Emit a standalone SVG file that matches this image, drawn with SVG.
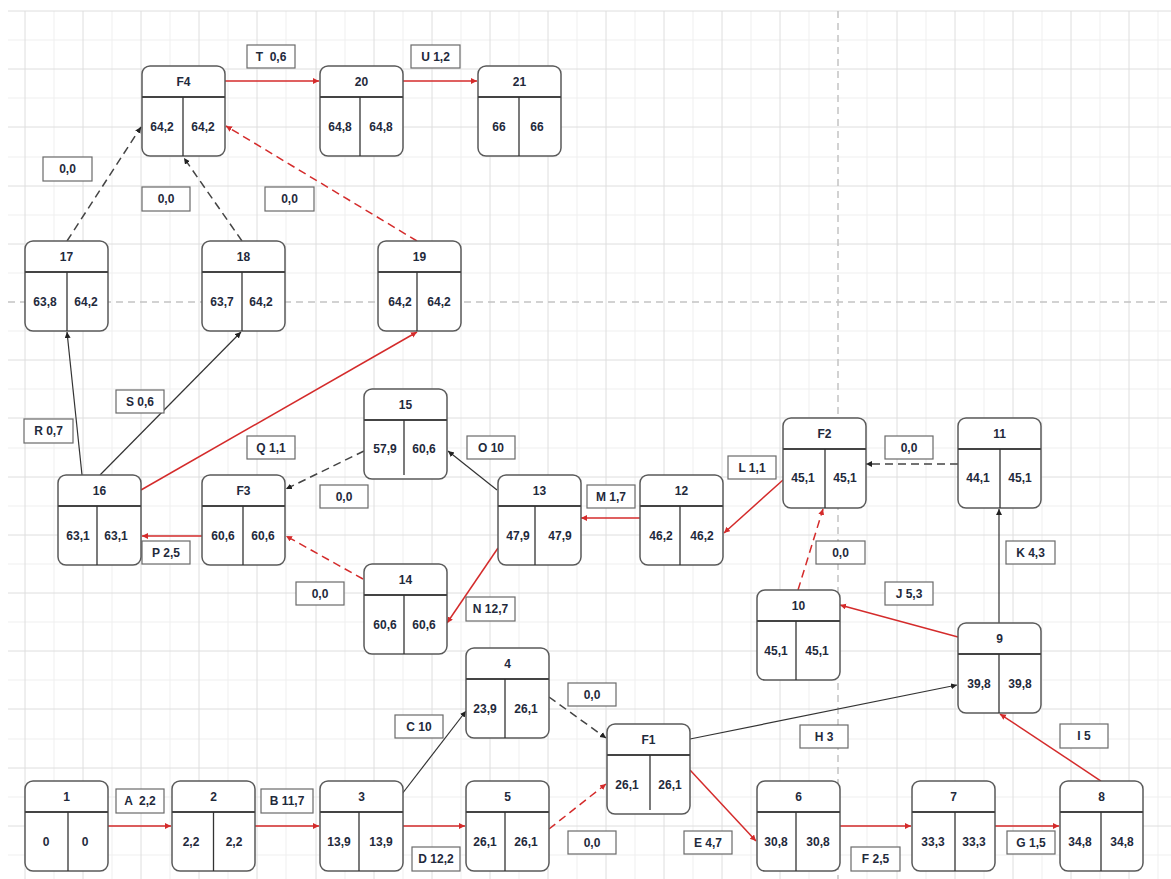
<svg xmlns="http://www.w3.org/2000/svg" width="1171" height="879" viewBox="0 0 1171 879">
<style>
.bg{fill:#ffffff}
.gmin{stroke:#efefef;stroke-width:1;fill:none}
.gmaj{stroke:#dedede;stroke-width:1;fill:none}
.gdash{stroke:#c4c4c4;stroke-width:1.5;stroke-dasharray:7 5;fill:none}
.box{fill:#ffffff;stroke:#5a5a5a;stroke-width:1.5}
.hdr{stroke:#444;stroke-width:2}
.div{stroke:#333;stroke-width:1.3}
.t{font-family:"Liberation Sans",Arial,sans-serif;font-size:12px;font-weight:bold;fill:#1f2a3c;text-anchor:middle}
.lbl rect{fill:#ffffff;stroke:#6a6a6a;stroke-width:1.2}
.red{stroke:#d42b2b;stroke-width:1.5;fill:none;marker-end:url(#ar)}
.redd{stroke:#d42b2b;stroke-width:1.5;fill:none;stroke-dasharray:8 5;marker-end:url(#ar)}
.blk{stroke:#333;stroke-width:1.2;fill:none;marker-end:url(#ab)}
.blkd{stroke:#444;stroke-width:1.5;fill:none;stroke-dasharray:8 5;marker-end:url(#ab)}
</style>
<defs>
<marker id="ar" markerWidth="7" markerHeight="7" refX="6" refY="3" orient="auto" markerUnits="userSpaceOnUse"><path d="M0,0 L6,3 L0,6 z" fill="#d42b2b"/></marker>
<marker id="ab" markerWidth="7" markerHeight="7" refX="6" refY="3" orient="auto" markerUnits="userSpaceOnUse"><path d="M0,0 L6,3 L0,6 z" fill="#222"/></marker>
</defs>
<rect class="bg" x="0" y="0" width="1171" height="879"/>
<g id="grid">
<path class="gmin" d="M54,11V879M112,11V879M170,11V879M228,11V879M286,11V879M345,11V879M403,11V879M461,11V879M519,11V879M577,11V879M635,11V879M693,11V879M751,11V879M809,11V879M867,11V879M926,11V879M984,11V879M1042,11V879M1100,11V879M1158,11V879
M8,40H1171M8,98H1171M8,157H1171M8,215H1171M8,273H1171M8,331H1171M8,389H1171M8,448H1171M8,506H1171M8,564H1171M8,622H1171M8,680H1171M8,739H1171M8,797H1171M8,855H1171"/>
<path class="gmaj" d="M25,11V879M83,11V879M141,11V879M199,11V879M257,11V879M316,11V879M374,11V879M432,11V879M490,11V879M548,11V879M606,11V879M664,11V879M722,11V879M780,11V879M897,11V879M955,11V879M1013,11V879M1071,11V879M1129,11V879
M8,11H1171M8,69H1171M8,127H1171M8,186H1171M8,244H1171M8,360H1171M8,418H1171M8,477H1171M8,535H1171M8,593H1171M8,651H1171M8,709H1171M8,768H1171M8,826H1171"/>
<path class="gdash" d="M838,11V879M8,302H1171"/>
</g>
<g id="connectors">
<path class="red" d="M108,826L171,826"/>
<path class="red" d="M255,826L319,826"/>
<path class="red" d="M403,826L465,826"/>
<path class="red" d="M690,770L756,841"/>
<path class="red" d="M840,826L911,826"/>
<path class="red" d="M995,826L1059,826"/>
<path class="red" d="M1101,781L1000,714"/>
<path class="red" d="M958,637L840,605"/>
<path class="red" d="M783,480L724,533"/>
<path class="red" d="M640,518L581,518"/>
<path class="red" d="M498,548L447,623"/>
<path class="red" d="M202,536L142,536"/>
<path class="red" d="M141,490L417,332"/>
<path class="red" d="M225,81L319,81"/>
<path class="red" d="M403,81L477,81"/>
<path class="redd" d="M549,829L606,784"/>
<path class="redd" d="M798,590L823,509"/>
<path class="redd" d="M363,579L286,536"/>
<path class="redd" d="M417,241L226,126"/>
<path class="blk" d="M402,794L466,711"/>
<path class="blk" d="M690,739L957,685"/>
<path class="blk" d="M999,623L999,509"/>
<path class="blk" d="M497,490L448,451"/>
<path class="blk" d="M82,475L67,332"/>
<path class="blk" d="M100,475L241,332"/>
<path class="blkd" d="M549,697L606,738"/>
<path class="blkd" d="M958,464L866,464"/>
<path class="blkd" d="M364,451L286,489"/>
<path class="blkd" d="M67,241L141,127"/>
<path class="blkd" d="M242,241L184,158"/>
</g>
<g id="labels">
<g class="lbl"><rect x="247" y="45" width="48" height="23"/><text class="t" x="271" y="61" style="white-space:pre">T  0,6</text></g>
<g class="lbl"><rect x="411" y="45" width="49" height="23"/><text class="t" x="435.5" y="61">U 1,2</text></g>
<g class="lbl"><rect x="43" y="157" width="49" height="24"/><text class="t" x="67.5" y="173">0,0</text></g>
<g class="lbl"><rect x="142" y="187" width="48" height="24"/><text class="t" x="166" y="203">0,0</text></g>
<g class="lbl"><rect x="265" y="187" width="49" height="24"/><text class="t" x="289.5" y="203">0,0</text></g>
<g class="lbl"><rect x="116" y="390" width="48" height="23"/><text class="t" x="140" y="406">S 0,6</text></g>
<g class="lbl"><rect x="24" y="419" width="49" height="24"/><text class="t" x="48.5" y="435">R 0,7</text></g>
<g class="lbl"><rect x="247" y="436" width="48" height="23"/><text class="t" x="271" y="452">Q 1,1</text></g>
<g class="lbl"><rect x="467" y="436" width="48" height="23"/><text class="t" x="491" y="452">O 10</text></g>
<g class="lbl"><rect x="320" y="485" width="48" height="23"/><text class="t" x="344" y="501">0,0</text></g>
<g class="lbl"><rect x="142" y="541" width="48" height="23"/><text class="t" x="166" y="557">P 2,5</text></g>
<g class="lbl"><rect x="296" y="582" width="48" height="23"/><text class="t" x="320" y="598">0,0</text></g>
<g class="lbl"><rect x="466" y="597" width="49" height="24"/><text class="t" x="490.5" y="613">N 12,7</text></g>
<g class="lbl"><rect x="587" y="485" width="48" height="23"/><text class="t" x="611" y="501">M 1,7</text></g>
<g class="lbl"><rect x="728" y="456" width="48" height="23"/><text class="t" x="752" y="472">L 1,1</text></g>
<g class="lbl"><rect x="885" y="436" width="48" height="23"/><text class="t" x="909" y="452">0,0</text></g>
<g class="lbl"><rect x="816" y="541" width="49" height="23"/><text class="t" x="840.5" y="557">0,0</text></g>
<g class="lbl"><rect x="1006" y="541" width="49" height="23"/><text class="t" x="1030.5" y="557">K 4,3</text></g>
<g class="lbl"><rect x="885" y="582" width="48" height="23"/><text class="t" x="909" y="598">J 5,3</text></g>
<g class="lbl"><rect x="116" y="789" width="48" height="24"/><text class="t" x="140" y="805" style="white-space:pre">A  2,2</text></g>
<g class="lbl"><rect x="261" y="789" width="52" height="24"/><text class="t" x="287" y="805">B 11,7</text></g>
<g class="lbl"><rect x="395" y="715" width="48" height="23"/><text class="t" x="419" y="731">C 10</text></g>
<g class="lbl"><rect x="412" y="847" width="48" height="24"/><text class="t" x="436" y="863">D 12,2</text></g>
<g class="lbl"><rect x="568" y="683" width="48" height="23"/><text class="t" x="592" y="699">0,0</text></g>
<g class="lbl"><rect x="568" y="831" width="48" height="23"/><text class="t" x="592" y="847">0,0</text></g>
<g class="lbl"><rect x="800" y="725" width="48" height="23"/><text class="t" x="824" y="741">H 3</text></g>
<g class="lbl"><rect x="1060" y="724" width="48" height="24"/><text class="t" x="1084" y="740">I 5</text></g>
<g class="lbl"><rect x="684" y="831" width="48" height="23"/><text class="t" x="708" y="847">E 4,7</text></g>
<g class="lbl"><rect x="851" y="847" width="49" height="24"/><text class="t" x="875.5" y="863">F 2,5</text></g>
<g class="lbl"><rect x="1007" y="831" width="48" height="23"/><text class="t" x="1031" y="847">G 1,5</text></g>
</g>
<g id="n1" transform="translate(25,781)"><rect class="box" x="0" y="0" width="83" height="90" rx="8"/><line class="hdr" x1="0" y1="31" x2="83" y2="31"/><line class="div" x1="43" y1="31" x2="43" y2="90"/><text class="t" x="41.5" y="20">1</text><text class="t" x="21" y="65">0</text><text class="t" x="60" y="65">0</text></g>
<g id="n2" transform="translate(172,781)"><rect class="box" x="0" y="0" width="83" height="90" rx="8"/><line class="hdr" x1="0" y1="31" x2="83" y2="31"/><line class="div" x1="41.5" y1="31" x2="41.5" y2="90"/><text class="t" x="41.5" y="20">2</text><text class="t" x="19" y="65">2,2</text><text class="t" x="62" y="65">2,2</text></g>
<g id="n3" transform="translate(320,781)"><rect class="box" x="0" y="0" width="83" height="90" rx="8"/><line class="hdr" x1="0" y1="31" x2="83" y2="31"/><line class="div" x1="39" y1="31" x2="39" y2="90"/><text class="t" x="41.5" y="20">3</text><text class="t" x="19" y="65">13,9</text><text class="t" x="61" y="65">13,9</text></g>
<g id="n4" transform="translate(466,648)"><rect class="box" x="0" y="0" width="83" height="90" rx="8"/><line class="hdr" x1="0" y1="31" x2="83" y2="31"/><line class="div" x1="39" y1="31" x2="39" y2="90"/><text class="t" x="41.5" y="20">4</text><text class="t" x="19" y="65">23,9</text><text class="t" x="60" y="65">26,1</text></g>
<g id="n5" transform="translate(466,781)"><rect class="box" x="0" y="0" width="83" height="90" rx="8"/><line class="hdr" x1="0" y1="31" x2="83" y2="31"/><line class="div" x1="39" y1="31" x2="39" y2="90"/><text class="t" x="41.5" y="20">5</text><text class="t" x="19" y="65">26,1</text><text class="t" x="60" y="65">26,1</text></g>
<g id="nF1" transform="translate(607,724)"><rect class="box" x="0" y="0" width="83" height="90" rx="8"/><line class="hdr" x1="0" y1="31" x2="83" y2="31"/><line class="div" x1="43" y1="31" x2="43" y2="86"/><text class="t" x="41.5" y="20">F1</text><text class="t" x="20" y="65">26,1</text><text class="t" x="63" y="65">26,1</text></g>
<g id="n6" transform="translate(757,781)"><rect class="box" x="0" y="0" width="83" height="90" rx="8"/><line class="hdr" x1="0" y1="31" x2="83" y2="31"/><line class="div" x1="39" y1="31" x2="39" y2="90"/><text class="t" x="41.5" y="20">6</text><text class="t" x="19" y="65">30,8</text><text class="t" x="61" y="65">30,8</text></g>
<g id="n7" transform="translate(912,781)"><rect class="box" x="0" y="0" width="83" height="90" rx="8"/><line class="hdr" x1="0" y1="31" x2="83" y2="31"/><line class="div" x1="43" y1="31" x2="43" y2="90"/><text class="t" x="41.5" y="20">7</text><text class="t" x="21" y="65">33,3</text><text class="t" x="62" y="65">33,3</text></g>
<g id="n8" transform="translate(1060,781)"><rect class="box" x="0" y="0" width="83" height="90" rx="8"/><line class="hdr" x1="0" y1="31" x2="83" y2="31"/><line class="div" x1="41" y1="31" x2="41" y2="90"/><text class="t" x="41.5" y="20">8</text><text class="t" x="20" y="65">34,8</text><text class="t" x="62" y="65">34,8</text></g>
<g id="n9" transform="translate(958,623)"><rect class="box" x="0" y="0" width="83" height="90" rx="8"/><line class="hdr" x1="0" y1="31" x2="83" y2="31"/><line class="div" x1="41" y1="31" x2="41" y2="90"/><text class="t" x="41.5" y="20">9</text><text class="t" x="21" y="65">39,8</text><text class="t" x="62" y="65">39,8</text></g>
<g id="n10" transform="translate(757,590)"><rect class="box" x="0" y="0" width="83" height="90" rx="8"/><line class="hdr" x1="0" y1="31" x2="83" y2="31"/><line class="div" x1="39" y1="31" x2="39" y2="90"/><text class="t" x="41.5" y="20">10</text><text class="t" x="19" y="65">45,1</text><text class="t" x="60" y="65">45,1</text></g>
<g id="nF2" transform="translate(783,418)"><rect class="box" x="0" y="0" width="83" height="90" rx="8"/><line class="hdr" x1="0" y1="31" x2="83" y2="31"/><line class="div" x1="42" y1="31" x2="42" y2="90"/><text class="t" x="41.5" y="20">F2</text><text class="t" x="20" y="64">45,1</text><text class="t" x="62" y="64">45,1</text></g>
<g id="n11" transform="translate(958,418)"><rect class="box" x="0" y="0" width="83" height="90" rx="8"/><line class="hdr" x1="0" y1="31" x2="83" y2="31"/><line class="div" x1="42" y1="31" x2="42" y2="90"/><text class="t" x="41.5" y="20">11</text><text class="t" x="20" y="64">44,1</text><text class="t" x="62" y="64">45,1</text></g>
<g id="n12" transform="translate(640,475)"><rect class="box" x="0" y="0" width="83" height="90" rx="8"/><line class="hdr" x1="0" y1="31" x2="83" y2="31"/><line class="div" x1="40" y1="31" x2="40" y2="90"/><text class="t" x="41.5" y="20">12</text><text class="t" x="21" y="65">46,2</text><text class="t" x="62" y="65">46,2</text></g>
<g id="n13" transform="translate(498,475)"><rect class="box" x="0" y="0" width="83" height="90" rx="8"/><line class="hdr" x1="0" y1="31" x2="83" y2="31"/><line class="div" x1="37" y1="31" x2="37" y2="90"/><text class="t" x="41.5" y="20">13</text><text class="t" x="20" y="65">47,9</text><text class="t" x="62" y="65">47,9</text></g>
<g id="n14" transform="translate(364,564)"><rect class="box" x="0" y="0" width="83" height="90" rx="8"/><line class="hdr" x1="0" y1="31" x2="83" y2="31"/><line class="div" x1="40" y1="31" x2="40" y2="90"/><text class="t" x="41.5" y="20">14</text><text class="t" x="21" y="65">60,6</text><text class="t" x="60" y="65">60,6</text></g>
<g id="n15" transform="translate(364,389)"><rect class="box" x="0" y="0" width="83" height="90" rx="8"/><line class="hdr" x1="0" y1="31" x2="83" y2="31"/><line class="div" x1="40" y1="31" x2="40" y2="86"/><text class="t" x="41.5" y="20">15</text><text class="t" x="21" y="64">57,9</text><text class="t" x="60" y="64">60,6</text></g>
<g id="nF3" transform="translate(202,475)"><rect class="box" x="0" y="0" width="83" height="90" rx="8"/><line class="hdr" x1="0" y1="31" x2="83" y2="31"/><line class="div" x1="41" y1="31" x2="41" y2="90"/><text class="t" x="41.5" y="20">F3</text><text class="t" x="21" y="65">60,6</text><text class="t" x="61" y="65">60,6</text></g>
<g id="n16" transform="translate(58,475)"><rect class="box" x="0" y="0" width="83" height="90" rx="8"/><line class="hdr" x1="0" y1="31" x2="83" y2="31"/><line class="div" x1="39" y1="31" x2="39" y2="90"/><text class="t" x="41.5" y="20">16</text><text class="t" x="20" y="65">63,1</text><text class="t" x="58" y="65">63,1</text></g>
<g id="n17" transform="translate(25,241)"><rect class="box" x="0" y="0" width="83" height="90" rx="8"/><line class="hdr" x1="0" y1="31" x2="83" y2="31"/><line class="div" x1="42" y1="31" x2="42" y2="90"/><text class="t" x="41.5" y="20">17</text><text class="t" x="20" y="65">63,8</text><text class="t" x="61" y="65">64,2</text></g>
<g id="n18" transform="translate(202,241)"><rect class="box" x="0" y="0" width="83" height="90" rx="8"/><line class="hdr" x1="0" y1="31" x2="83" y2="31"/><line class="div" x1="40" y1="31" x2="40" y2="90"/><text class="t" x="41.5" y="20">18</text><text class="t" x="20" y="65">63,7</text><text class="t" x="59" y="65">64,2</text></g>
<g id="n19" transform="translate(378,241)"><rect class="box" x="0" y="0" width="83" height="90" rx="8"/><line class="hdr" x1="0" y1="31" x2="83" y2="31"/><line class="div" x1="39" y1="31" x2="39" y2="90"/><text class="t" x="41.5" y="20">19</text><text class="t" x="22" y="65">64,2</text><text class="t" x="61" y="65">64,2</text></g>
<g id="nF4" transform="translate(142,66)"><rect class="box" x="0" y="0" width="83" height="90" rx="8"/><line class="hdr" x1="0" y1="31" x2="83" y2="31"/><line class="div" x1="41" y1="31" x2="41" y2="90"/><text class="t" x="41.5" y="20">F4</text><text class="t" x="20" y="65">64,2</text><text class="t" x="61" y="65">64,2</text></g>
<g id="n20" transform="translate(320,66)"><rect class="box" x="0" y="0" width="83" height="90" rx="8"/><line class="hdr" x1="0" y1="31" x2="83" y2="31"/><line class="div" x1="40" y1="31" x2="40" y2="90"/><text class="t" x="41.5" y="20">20</text><text class="t" x="20" y="65">64,8</text><text class="t" x="61" y="65">64,8</text></g>
<g id="n21" transform="translate(478,66)"><rect class="box" x="0" y="0" width="83" height="90" rx="8"/><line class="hdr" x1="0" y1="31" x2="83" y2="31"/><line class="div" x1="41" y1="31" x2="41" y2="90"/><text class="t" x="41.5" y="20">21</text><text class="t" x="21" y="65">66</text><text class="t" x="59" y="65">66</text></g>
</svg>
